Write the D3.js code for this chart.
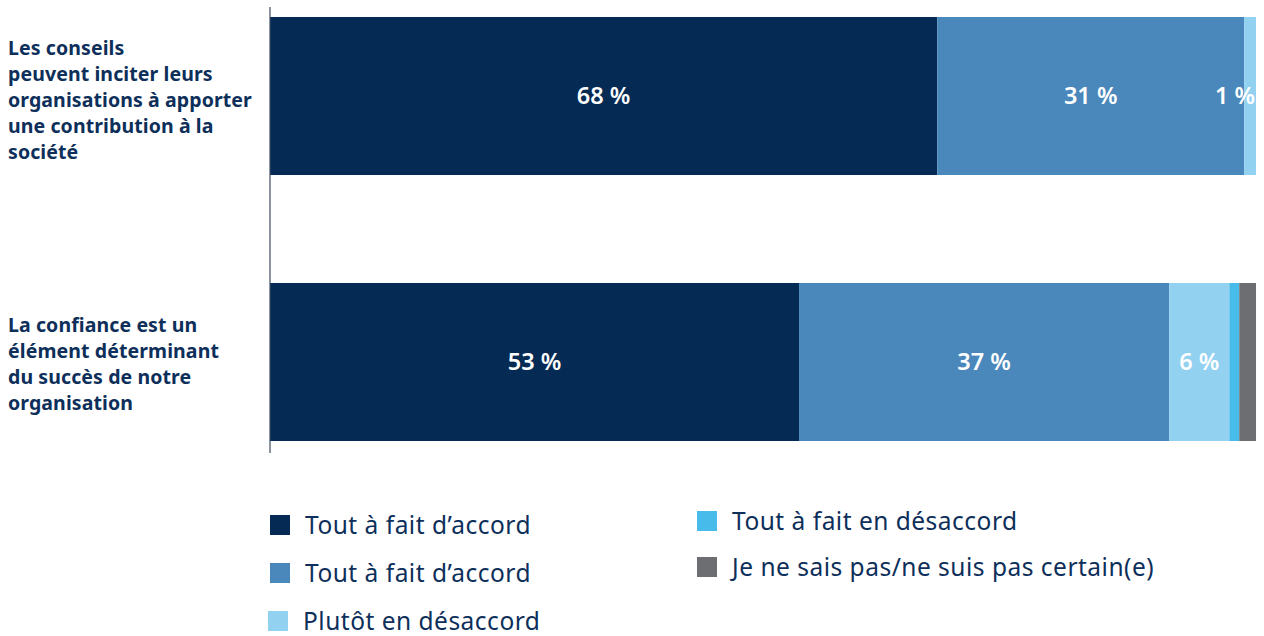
<!DOCTYPE html>
<html>
<head>
<meta charset="utf-8">
<script src="https://cdn.jsdelivr.net/npm/d3@7"></script>
<style>
  body { margin: 0; background: #fff; }
  svg { font-family: "Noto Sans", "Open Sans", sans-serif; }
</style>
</head>
<body>
<div id="chart"></div>
<script>
// data
const categories = ["conseils", "confiance"]
const category_lines = [
    ["Les conseils", "peuvent inciter leurs", "organisations à apporter", "une contribution à la", "société"],
    ["La confiance est un", "élément déterminant", "du succès de notre", "organisation"]
]
const series_names = ["Tout à fait d’accord", "Tout à fait d’accord", "Plutôt en désaccord", "Tout à fait en désaccord", "Je ne sais pas/ne suis pas certain(e)"]
const series_colors = ["#052a54", "#4a87bb", "#93d1f1", "#47bbea", "#6d6e72"]
const tout_accord = [67.6, 53.6]
const accord = [31.1, 37.5]
const plutot_desaccord = [1.2, 6.1]
const tout_desaccord = [0, 1.0]
const ne_sais_pas = [0, 1.7]
const bar_labels = [["68 %", "31 %", "1 %", "", ""], ["53 %", "37 %", "6 %", "", ""]]

const series = [tout_accord, accord, plutot_desaccord, tout_desaccord, ne_sais_pas]
const text_color = "#0d2f5a"

// svg
const width = 1264, height = 636
const svg = d3.select("#chart").append("svg")
    .attr("width", width)
    .attr("height", height)

const x = d3.scaleLinear().domain([0, 100]).range([270, 1257])
const y = d3.scaleBand().domain(categories).range([17, 441]).paddingInner(0.406).paddingOuter(0)

// stacked rows
const rows = categories.map((c, i) => {
    const row = { cat: c }
    series.forEach((s, j) => row["s" + j] = s[i])
    return row
})
const stack = d3.stack().keys(series.map((s, j) => "s" + j))
const stacked = stack(rows)

stacked.forEach((layer, j) => {
    svg.append("g").selectAll("rect")
        .data(layer)
        .join("rect")
        .attr("x", d => x(d[0]))
        .attr("y", d => y(d.data.cat))
        .attr("width", d => x(d[1]) - x(d[0]))
        .attr("height", y.bandwidth())
        .attr("fill", series_colors[j])
})

// bar labels
stacked.forEach((layer, j) => {
    layer.forEach((d, i) => {
        const txt = bar_labels[i][j]
        if (!txt) return
        const cx = (x(d[0]) + x(d[1])) / 2
        const t = svg.append("text")
            .attr("y", y(d.data.cat) + y.bandwidth() / 2)
            .attr("dy", "0.35em")
            .attr("fill", "#fff")
            .attr("font-size", 23.5)
            .attr("font-weight", 600)
            .text(txt)
        const w = t.node().getComputedTextLength()
        t.attr("x", Math.min(cx - w / 2, x.range()[1] - 2 - w))
    })
})

// axis line
svg.append("line")
    .attr("x1", x(0)).attr("x2", x(0))
    .attr("y1", 7).attr("y2", 453)
    .attr("stroke", "#3b4a5e")
    .attr("stroke-width", 1.2)

// category labels
const label_top = [55, 332]
category_lines.forEach((lines, i) => {
    const t = svg.append("text")
        .attr("x", 8)
        .attr("y", label_top[i])
        .attr("fill", text_color)
        .attr("font-size", 19.5)
        .attr("font-weight", 700)
        .attr("letter-spacing", 0.1)
    lines.forEach((l, k) => {
        t.append("tspan").attr("x", 8).attr("y", label_top[i] + k * 26).text(l)
    })
})

// legend
const legend_pos = [[270, 525], [270, 573], [268, 621], [697, 521], [697, 567]]
series_names.forEach((name, j) => {
    const [lx, ly] = legend_pos[j]
    svg.append("rect")
        .attr("x", lx).attr("y", ly - 10)
        .attr("width", 20).attr("height", 20)
        .attr("fill", series_colors[j])
    svg.append("text")
        .attr("x", lx + 35)
        .attr("y", ly)
        .attr("dy", "0.35em")
        .attr("fill", text_color)
        .attr("font-size", 24.5)
        .attr("letter-spacing", 0.5)
        .text(name)
})
</script>
</body>
</html>
